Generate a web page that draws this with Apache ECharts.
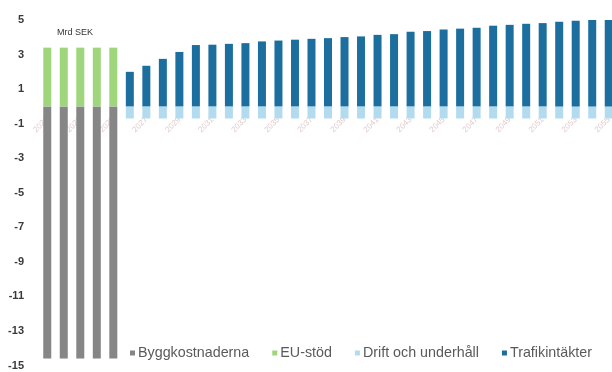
<!DOCTYPE html>
<html><head><meta charset="utf-8">
<script src="https://cdn.jsdelivr.net/npm/echarts@6/dist/echarts.min.js"></script>
<style>html,body{margin:0;padding:0;background:#fff}#c{width:612px;height:372px}</style>
</head><body><div id="c"></div>
<script>
const years = [2021,2022,2023,2024,2025,2026,2027,2028,2029,2030,2031,2032,2033,2034,2035,2036,2037,2038,2039,2040,2041,2042,2043,2044,2045,2046,2047,2048,2049,2050,2051,2052,2053,2054,2055];
const byggkostnader = [-14.6,-14.6,-14.6,-14.6,-14.6,0,0,0,0,0,0,0,0,0,0,0,0,0,0,0,0,0,0,0,0,0,0,0,0,0,0,0,0,0,0];
const euStod = [3.4,3.4,3.4,3.4,3.4,0,0,0,0,0,0,0,0,0,0,0,0,0,0,0,0,0,0,0,0,0,0,0,0,0,0,0,0,0,0];
const drift = [0,0,0,0,0,-0.7,-0.7,-0.7,-0.7,-0.7,-0.7,-0.7,-0.7,-0.7,-0.7,-0.7,-0.7,-0.7,-0.7,-0.7,-0.7,-0.7,-0.7,-0.7,-0.7,-0.7,-0.7,-0.7,-0.7,-0.7,-0.7,-0.7,-0.7,-0.7,-0.7];
const trafik = [0,0,0,0,0,2.0,2.35,2.75,3.15,3.55,3.57,3.62,3.66,3.76,3.81,3.86,3.91,3.95,4.01,4.05,4.14,4.18,4.32,4.36,4.45,4.5,4.55,4.67,4.72,4.78,4.82,4.9,4.96,5.05,5.13];

const chart = echarts.init(document.getElementById('c'));
const font = 'Liberation Sans, Arial, sans-serif';
function s(name, data, color){
  return {name, type:'bar', stack:'t', data, barWidth:8, itemStyle:{color}, animation:false};
}
chart.setOption({
  animation:false,
  textStyle:{fontFamily:font},
  grid:{left:39, top:20, width:578, bottom:6.5, containLabel:false, outerBoundsMode:'none'},
  xAxis:{type:'category', data:years, offset:-259, axisLine:{show:false, onZero:false}, axisTick:{show:false},
    axisLabel:{rotate:45, interval:1, fontSize:8, color:'#e3cccc', margin:12}},
  yAxis:{type:'value', min:-15, max:5, interval:1, splitLine:{show:false}, axisLine:{show:false}, axisTick:{show:false},
    axisLabel:{margin:15, fontSize:11, fontWeight:'bold', color:'#3a3a3a', formatter:v=> (Math.abs(v)%2===1)? String(v):''}},
  legend:{left:130, top:346, itemWidth:5, itemHeight:5, itemGap:23, icon:'rect', padding:0,
    textStyle:{fontSize:14.3, color:'#5a5a5a', fontFamily:font, padding:[0,0,0,-2]},
    data:['Byggkostnaderna','EU-stöd','Drift och underhåll','Trafikintäkter']},
  graphic:[{type:'text', left:57, top:28, style:{text:'Mrd SEK', font:'9px '+font, fill:'#333'}}],
  series:[
    s('Byggkostnaderna', byggkostnader, '#868686'),
    s('EU-stöd', euStod, '#9fd57b'),
    s('Drift och underhåll', drift, '#b2dbef'),
    s('Trafikintäkter', trafik, '#1b6e9e')
  ]
});
</script></body></html>
